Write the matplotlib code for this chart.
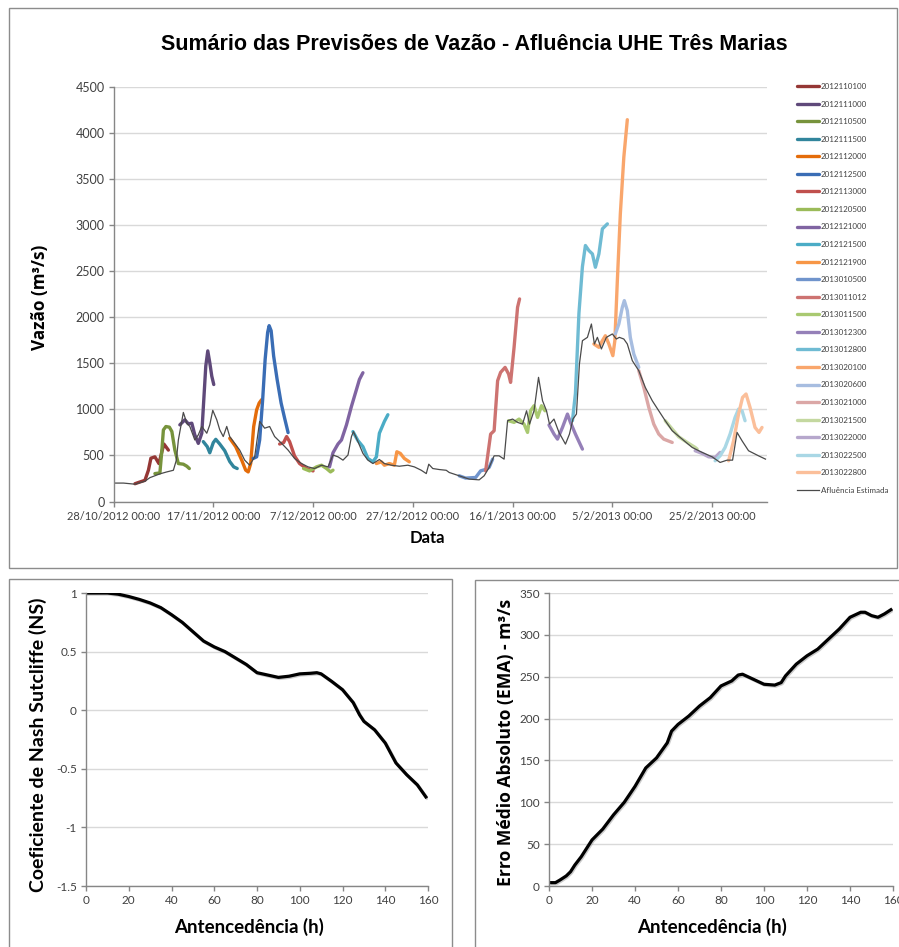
import matplotlib
matplotlib.use('Agg')
import matplotlib.pyplot as plt
from matplotlib.patches import Rectangle
import matplotlib.patheffects as pe

# --- data: top chart (x = days since 28/10/2012) ---
date_ticks = [0, 20, 40, 60, 80, 100, 120]
date_labels = ['28/10/2012 00:00', '17/11/2012 00:00', '7/12/2012 00:00', '27/12/2012 00:00',
               '16/1/2013 00:00', '5/2/2013 00:00', '25/2/2013 00:00']

obs_day = [0, 2, 4.3, 6.3, 7.3, 9.3, 10.6, 12, 12.6, 13, 14, 14.7, 15.3, 16.3, 17, 17.7, 18.7, 19.3, 19.9,
           20.7, 21.3, 22, 22.7, 23.3, 24.3, 25.3, 26.3, 27.3, 28.3, 29.3, 30.3, 31.3, 32.3, 33.7, 35,
           36.3, 37.7, 39, 40.3, 41.7, 43, 44, 45, 46, 47, 47.7, 48.1, 49, 50, 51, 52, 53.3, 54.3, 55.7,
           57.3, 59, 60.3, 61.7, 62.7, 63.2, 64, 65.3, 66.7, 67.3, 69.3, 71.3, 73.3, 74.3, 75.3, 76.3,
           77.3, 78.3, 79, 80, 81, 82, 82.8, 83.4, 84.3, 85.2, 86, 86.8, 87.4, 88.3, 89.3, 90.6, 91.4,
           92.1, 92.8, 93.4, 94, 95, 95.8, 96.4, 97, 97.8, 98.8, 100, 100.8, 101.4, 102.3, 103, 104,
           105.3, 106.6, 108, 109.3, 110.6, 112, 114, 116, 118, 120, 121.6, 123, 124.1, 125, 126, 127.3,
           129.3, 130.7]
obs_val = [200, 200, 188, 220, 259, 300, 320, 339, 449, 667, 967, 850, 815, 668, 723, 815, 741, 832, 990,
           887, 778, 705, 815, 705, 631, 558, 449, 394, 485, 869, 796, 814, 705, 631, 558,
           467, 412, 376, 358, 394, 376, 504, 485, 449, 504, 705, 759, 650, 522, 449, 412, 456, 412, 394,
           383, 394, 376, 339, 303, 405, 358, 347, 339, 315, 279, 243, 235, 279, 370, 496,
           496, 460, 877, 895, 859, 840, 985, 840, 985, 1348, 1094, 985, 840, 895, 750, 623, 732,
           895, 949, 1493, 1746, 1782, 1927, 1710, 1782, 1656, 1782, 1819, 1764, 1782, 1764, 1710, 1529,
           1420, 1239, 1094, 985, 877, 768, 677, 587, 533, 485, 424, 449, 449, 750, 659, 551,
           496, 460]

fc_names = ['2012110100', '2012111000', '2012110500', '2012111500', '2012112000', '2012112500',
            '2012113000', '2012120500', '2012121000', '2012121500', '2012121900', '2013010500',
            '2013011012', '2013011500', '2013012300', '2013012800', '2013020100', '2013020600',
            '2013021000', '2013021500', '2013022000', '2013022500', '2013022800']
fc_colors = ['#953735', '#5f497a', '#77933c', '#31859c', '#e46c0a', '#3a6db5',
             '#c0504d', '#9bbb59', '#8064a2', '#4bacc6', '#f79646', '#7094cc',
             '#cd7371', '#a9c971', '#9580b8', '#6fbbd3', '#f9a66c', '#a7bde0',
             '#dba7a6', '#c4d8a0', '#b6a7cc', '#a9d7e5', '#fbbf9a']
fc_days = [
    [4.3, 5.3, 6.3, 7, 7.5, 8.3, 9.1, 9.7, 10.1, 10.5, 11],
    [13.3, 14.3, 15, 15.7, 16.3, 17, 17.7, 18.1, 18.5, 18.9, 19.3, 19.7, 20.1],
    [8.3, 9.3, 9.7, 10, 10.5, 11.2, 11.7, 12.3, 13, 14, 14.7, 15.2],
    [18, 18.8, 19.3, 20, 20.5, 21.3, 22.3, 23.3, 24.1, 24.8],
    [23.3, 24.5, 25.7, 26.5, 27, 27.5, 28.1, 28.7, 29.2, 29.7],
    [28, 28.7, 29.3, 29.9, 30.4, 30.9, 31.2, 31.6, 32.1, 32.8, 33.6, 34.3, 35],
    [33.3, 34.1, 34.7, 35.3, 36.3, 37.3, 38.7, 40],
    [38.1, 39.3, 40.7, 41.7, 42.7, 43.5, 44],
    [43.3, 44, 45, 45.7, 46.7, 47.7, 48.7, 49.3, 50],
    [48, 49, 50, 51, 52, 52.7, 53.3, 54.3, 55],
    [52.7, 53.7, 54.3, 55.3, 56.3, 56.8, 57.5, 58.3, 59.3],
    [69.3, 70.6, 72.6, 73.6, 74.6, 75.3, 76],
    [74.6, 75.6, 76.3, 77, 77.6, 78.5, 79.2, 79.6, 80.3, 81, 81.4],
    [79.2, 80.3, 81.3, 82.3, 83, 83.6, 84.3, 85, 85.8, 86.5],
    [87.3, 88.3, 89, 90, 91, 91.6, 92.6, 94],
    [92, 92.6, 93.3, 94, 94.6, 95.3, 96, 96.6, 97.3, 98, 99],
    [96.3, 97.3, 98, 98.6, 99.3, 100.1, 100.5, 101, 101.6, 102.3, 103],
    [100.6, 101.3, 102, 102.4, 103, 103.6, 104.3, 105.3],
    [105.3, 106.3, 107.3, 108.3, 109.3, 110.3, 112],
    [110.6, 112, 113.3, 115, 116.6, 117],
    [116.6, 118, 119.3, 120.6, 121.6],
    [120.6, 121.6, 122.6, 123.6, 124.6, 125.3, 126, 126.6],
    [123.3, 124.3, 125.3, 126.1, 126.8, 127.6, 128.6, 129.4, 130],
]
fc_vals = [
    [193, 212, 230, 340, 470, 485, 412, 540, 624, 595, 558],
    [832, 887, 843, 850, 723, 631, 741, 1106, 1471, 1635, 1507, 1361, 1270],
    [303, 310, 558, 777, 814, 807, 760, 558, 412, 405, 383, 358],
    [650, 595, 529, 639, 675, 624, 551, 434, 376, 358],
    [686, 595, 449, 340, 321, 412, 814, 996, 1069, 1106],
    [467, 485, 668, 1106, 1544, 1836, 1909, 1854, 1580, 1325, 1069, 905, 748],
    [624, 639, 705, 650, 493, 412, 358, 332],
    [358, 332, 376, 394, 358, 321, 340],
    [376, 529, 624, 668, 832, 1033, 1215, 1325, 1398],
    [759, 661, 595, 467, 431, 485, 741, 869, 942],
    [412, 431, 394, 412, 394, 540, 522, 467, 431],
    [279, 254, 261, 333, 348, 370, 460],
    [333, 732, 768, 1311, 1402, 1456, 1384, 1293, 1674, 2109, 2199],
    [877, 859, 895, 840, 750, 985, 1040, 913, 1040, 985],
    [830, 732, 677, 804, 949, 859, 732, 569],
    [877, 1174, 2043, 2550, 2779, 2724, 2688, 2543, 2688, 2960, 3014],
    [1710, 1674, 1746, 1800, 1710, 1583, 1746, 2398, 3123, 3739, 4145],
    [1819, 1927, 2109, 2181, 2072, 1782, 1601, 1456],
    [1420, 1239, 1022, 840, 732, 677, 641],
    [877, 786, 703, 641, 587, 569],
    [551, 522, 485, 478, 533],
    [442, 496, 587, 732, 913, 1003, 985, 877],
    [442, 659, 949, 1130, 1167, 1022, 804, 750, 804],
]

# --- data: bottom charts ---
ns_h = [0, 5, 10, 15, 20, 25, 30, 35, 40, 45, 50, 55, 60, 65, 70, 75, 80, 85, 90, 95, 100, 105, 108,
        110, 115, 120, 125, 128, 130, 135, 140, 145, 150, 155, 159]
ns_v = [1.0, 1.0, 1.0, 0.99, 0.97, 0.945, 0.915, 0.875, 0.815, 0.75, 0.67, 0.59, 0.54, 0.5, 0.445,
        0.39, 0.32, 0.3, 0.28, 0.29, 0.31, 0.315, 0.32, 0.31, 0.245, 0.175, 0.065, -0.04, -0.095,
        -0.167, -0.28, -0.45, -0.55, -0.637, -0.74]
ema_h = [1, 3, 5, 8, 10, 12, 15, 20, 25, 30, 35, 40, 45, 50, 55, 57, 60, 65, 70, 75, 80, 85, 88, 90,
         95, 100, 105, 108, 110, 115, 120, 125, 130, 135, 140, 145, 147, 150, 153, 156, 159]
ema_v = [4, 4, 7, 12, 17, 25, 35, 55, 68, 85, 100, 119, 141, 153, 171, 185, 193, 203, 215, 225, 239,
         245, 252, 253, 247, 241, 240, 243, 251, 265, 275, 283, 295, 307, 321, 327, 327, 323, 321,
         325, 330]

W, H = 899, 947
def fx(px):
    return px / W
def fy(py):
    return 1 - py / H

TICK_FONT = 'Lato'
SUP_FONT = 'Open Sans'   # Lato spaces the ³ oddly
GRID = '#d9d9d9'
AXC = '#868686'

fig = plt.figure(figsize=(W / 100, H / 100), dpi=100)

# panel frames
for (x0, y0, x1, y1) in [(9, 8, 897, 568), (9, 579, 452, 980), (475, 580, 930, 980)]:
    fig.add_artist(Rectangle((fx(x0), fy(y1)), (x1 - x0) / W, (y1 - y0) / H,
                             transform=fig.transFigure, fill=False, ec='#8c8c8c', lw=1))


def style_axis(ax, size=8.5):
    ax.spines['top'].set_visible(False)
    ax.spines['right'].set_visible(False)
    for s in ['left', 'bottom']:
        ax.spines[s].set_color(AXC)
        ax.spines[s].set_linewidth(1)
    ax.tick_params(axis='both', direction='out', length=3.5, color=AXC, width=1,
                   labelsize=size, labelcolor='#404040', pad=3)
    ax.grid(axis='y', color=GRID, lw=1)
    ax.set_axisbelow(True)
    for lab in ax.get_xticklabels() + ax.get_yticklabels():
        lab.set_fontfamily(TICK_FONT)


# --- top chart ---
ax = fig.add_axes([fx(113.5), fy(501.5), (767 - 113.5) / W, (501.5 - 87) / H])
for d, v, c, n in zip(fc_days, fc_vals, fc_colors, fc_names):
    ax.plot(d, v, color=c, lw=2.4, label=n, solid_capstyle='round', solid_joinstyle='round')
ax.plot(obs_day, obs_val, color='#4a4a4a', lw=0.9, label='Afluência Estimada')
ax.set_xlim(0, 131)
ax.set_ylim(0, 4500)
ax.set_yticks(range(0, 4501, 500))
ax.set_xticks(date_ticks)
ax.set_xticklabels(date_labels)
style_axis(ax, size=8)
ax.tick_params(axis='y', labelsize=9)

leg = ax.legend(loc='upper left', bbox_to_anchor=(fx(797), fy(83)), bbox_transform=fig.transFigure,
                frameon=False, prop={'family': TICK_FONT, 'size': 5.8}, borderpad=0,
                borderaxespad=0, labelspacing=1.31, handlelength=2.7, handletextpad=0.25)
for t in leg.get_texts():
    t.set_color('#404040')

fig.text(fx(474), fy(45), 'Sumário das Previsões de Vazão - Afluência UHE Três Marias',
         ha='center', va='center', fontsize=15.5, fontweight='bold', family='Liberation Sans')
fig.text(fx(40), fy(297), 'Vazão (m³/s)', rotation=90, ha='center', va='center',
         fontsize=12.3, fontweight='bold', family=SUP_FONT)
fig.text(fx(427), fy(538), 'Data', ha='center', va='center', fontsize=12, fontweight='bold',
         family=TICK_FONT)

# --- bottom left: NS ---
shadow = [pe.SimpleLineShadow(offset=(0.8, -0.8), shadow_color='#999999', alpha=0.5), pe.Normal()]
ax2 = fig.add_axes([fx(86), fy(886), (428 - 86) / W, (886 - 593) / H])
ax2.plot(ns_h, ns_v, color='black', lw=2.3, path_effects=shadow)
ax2.set_xlim(0, 160)
ax2.set_ylim(-1.5, 1)
ax2.set_xticks(range(0, 161, 20))
ax2.set_yticks([-1.5, -1, -0.5, 0, 0.5, 1])
ax2.set_yticklabels(['-1.5', '-1', '-0.5', '0', '0.5', '1'])
style_axis(ax2)
fig.text(fx(38), fy(745), 'Coeficiente de Nash Sutcliffe (NS)', rotation=90, ha='center',
         va='center', fontsize=14, fontweight='bold', family=TICK_FONT)
fig.text(fx(249), fy(927), 'Antencedência (h)', ha='center', va='center', fontsize=13.5,
         fontweight='bold', family=TICK_FONT)

# --- bottom right: EMA ---
ax3 = fig.add_axes([fx(549), fy(886), (893 - 549) / W, (886 - 593) / H])
ax3.plot(ema_h, ema_v, color='black', lw=2.3, path_effects=shadow)
ax3.set_xlim(0, 160)
ax3.set_ylim(0, 350)
ax3.set_xticks(range(0, 161, 20))
ax3.set_yticks(range(0, 351, 50))
style_axis(ax3)
fig.text(fx(506), fy(742), 'Erro Médio Absoluto (EMA) - m³/s', rotation=90, ha='center',
         va='center', fontsize=12.6, fontweight='bold', family=SUP_FONT)
fig.text(fx(712), fy(927), 'Antencedência (h)', ha='center', va='center', fontsize=13.5,
         fontweight='bold', family=TICK_FONT)

fig.savefig('out.png', dpi=100)
